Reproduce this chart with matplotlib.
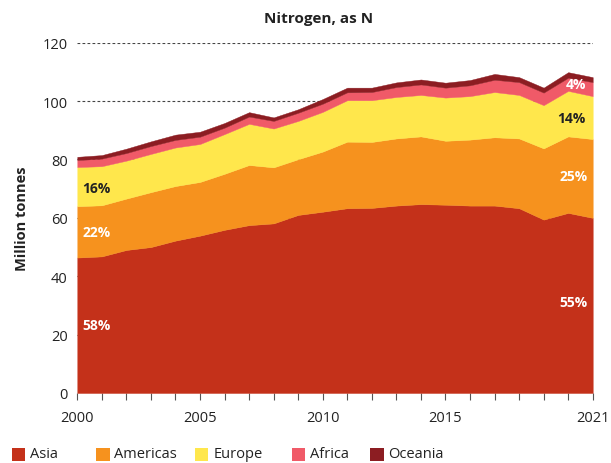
import matplotlib
matplotlib.use("Agg")
import matplotlib.pyplot as plt
from matplotlib.patches import Rectangle

plt.rcParams['font.family'] = ['Open Sans', 'DejaVu Sans']
plt.rcParams['lines.scale_dashes'] = False

years = list(range(2000, 2022))
regions = ["Asia", "Americas", "Europe", "Africa", "Oceania"]
colors = ["#C4311A", "#F6921E", "#FFE74C", "#F05A68", "#8C1D22"]

asia = [46.4, 46.8, 49.0, 50.0, 52.2, 53.9, 55.9, 57.5, 58.1, 61.0, 62.1, 63.3,
        63.4, 64.2, 64.7, 64.5, 64.2, 64.2, 63.3, 59.4, 61.7, 60.0]
americas = [17.6, 17.5, 17.6, 18.8, 18.7, 18.4, 19.2, 20.6, 19.2, 19.1, 20.6, 22.8,
            22.6, 23.0, 23.2, 21.9, 22.6, 23.4, 23.9, 24.4, 26.2, 27.0]
europe = [13.4, 13.4, 13.0, 13.1, 13.2, 13.0, 13.6, 14.1, 13.3, 13.1, 13.6, 14.2,
          14.3, 14.2, 14.2, 14.8, 14.9, 15.5, 14.9, 14.8, 15.6, 14.7]
africa = [2.4, 2.6, 2.6, 2.7, 2.6, 2.5, 2.2, 2.5, 2.6, 2.8, 2.8, 2.7,
          2.8, 3.4, 3.6, 3.4, 3.7, 4.2, 4.4, 4.3, 4.5, 4.8]
oceania = [1.1, 1.2, 1.5, 1.6, 1.8, 1.7, 1.6, 1.5, 1.2, 1.2, 1.6, 1.6,
           1.5, 1.6, 1.7, 1.7, 1.8, 2.0, 1.7, 1.7, 1.9, 1.7]

yticks = [0, 20, 40, 60, 80, 100, 120]
xtick_labels = [2000, 2005, 2010, 2015, 2021]

# share labels: (text, x, y, ha, color)
share_labels = [
    ("58%", 2000.22, 23.4, "left", "white"),
    ("22%", 2000.22, 55.0, "left", "white"),
    ("16%", 2000.22, 70.3, "left", "#222222"),
    ("55%", 2020.78, 31.3, "right", "white"),
    ("25%", 2020.78, 74.5, "right", "white"),
    ("14%", 2020.72, 94.2, "right", "#222222"),
    ("4%", 2020.72, 105.9, "right", "white"),
]

W, H = 611, 464
fig = plt.figure(figsize=(W / 100, H / 100), dpi=100)
ax = fig.add_axes([77.3 / W, 1 - 394 / H, (592.7 - 77.3) / W, (394 - 43.7) / H])

ax.stackplot(years, asia, americas, europe, africa, oceania,
             colors=colors, linewidth=0.3, edgecolor='face', antialiased=True)

ax.set_xlim(2000, 2021)
ax.set_ylim(0, 120)
ax.set_yticks(yticks)
ax.set_xticks(years)
ax.set_xticklabels([str(y) if y in xtick_labels else "" for y in years])
ax.tick_params(axis='x', length=5, width=0.8, color='#555555', pad=7,
               labelsize=10.5, labelcolor='#222222')
ax.tick_params(axis='y', length=0, pad=7, labelsize=10.5, labelcolor='#222222')
for s in ax.spines.values():
    s.set_visible(False)

ax.set_axisbelow(True)
ax.yaxis.grid(True, color='#444444', linewidth=0.8, linestyle=(0, (2, 1.6)))
ax.xaxis.grid(False)

for txt, x, y, ha, c in share_labels:
    ax.text(x, y, txt, ha=ha, va='center', color=c, fontsize=10, fontweight='bold')

ax.set_ylabel("Million tonnes", fontsize=10.5, fontweight='bold', color='#222222', labelpad=10)

fig.text(319 / W, 1 - 19 / H, "Nitrogen, as N", ha='center', va='center',
         fontsize=11, fontweight='bold', color='#222222')

# legend
sq_x = [11.7, 96.0, 194.7, 291.8, 370.0]
ly = 455
for name, col, x in zip(regions, colors, sq_x):
    fig.patches.append(Rectangle((x / W, 1 - (ly + 6.5) / H), 13.5 / W, 13 / H,
                                 transform=fig.transFigure, facecolor=col, edgecolor='none'))
    fig.text((x + 18.5) / W, 1 - ly / H, name, ha='left', va='center',
             fontsize=10.5, color='#222222')

fig.savefig("out.png", dpi=100)
